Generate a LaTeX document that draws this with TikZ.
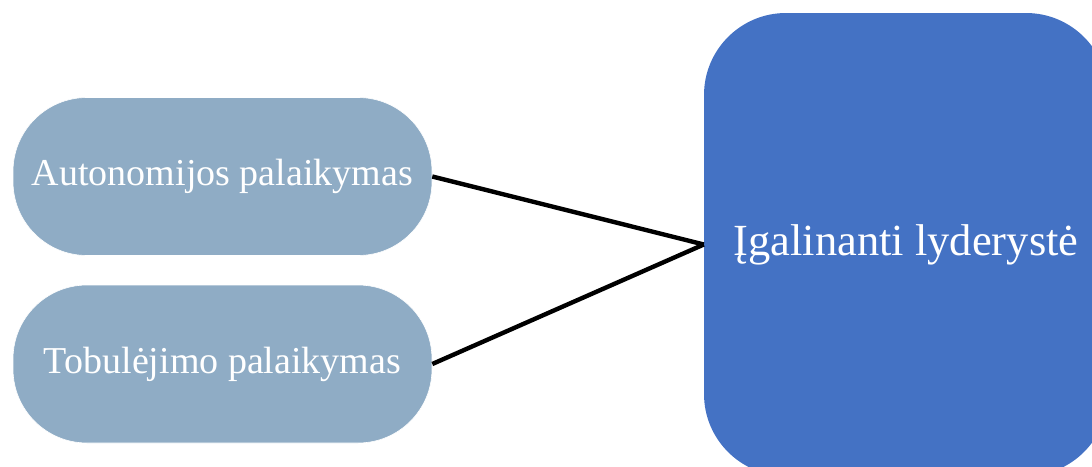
\documentclass[tikz,border=0pt]{standalone}
\usepackage{fontspec}
\setmainfont{Liberation Serif}
\definecolor{pillblue}{HTML}{8FACC5}
\definecolor{boxblue}{HTML}{4472C4}
\begin{document}
\begin{tikzpicture}[x=1pt,y=-1pt,
  pill/.style={rectangle, rounded corners=74pt, fill=pillblue, draw=white, line width=0.6pt,
    minimum width=419pt, minimum height=158pt, inner sep=0pt, text=white,
    font=\fontsize{38}{44}\selectfont},
  bigbox/.style={rectangle, rounded corners=82pt, fill=boxblue,
    minimum width=404pt, minimum height=463pt, inner sep=0pt, text=white,
    font=\fontsize{44.5}{50}\selectfont},
  link/.style={line width=4.4pt, black}]
  \useasboundingbox (0,0) rectangle (1092,466);
  \clip (0,0) rectangle (1092,466);
  % the two supporting factors on the left
  \node[pill] (auto) at (222.5,176.5) {Autonomijos palaikymas};
  \node[pill] (tob) at (222.5,364) {Tobulėjimo palaikymas};
  % the outcome on the right
  \node[bigbox] (lead) at (906,244.5) {Įgalinanti lyderystė};
  % links from each factor to the outcome
  \draw[link] (auto.east) -- (lead.west);
  \draw[link] (tob.east) -- (lead.west);
\end{tikzpicture}
\end{document}
